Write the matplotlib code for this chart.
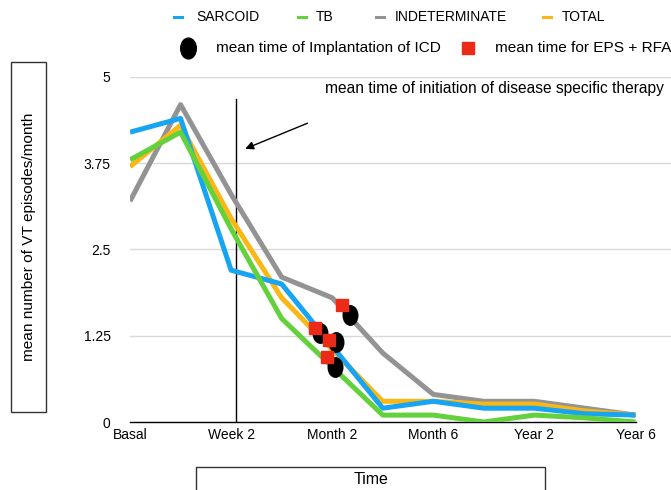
import numpy as np
import matplotlib
matplotlib.use("Agg")
import matplotlib.pyplot as plt
from matplotlib.markers import MarkerStyle
from matplotlib.transforms import Affine2D
from matplotlib.patches import Rectangle

plt.rcParams['font.family'] = ['Liberation Sans', 'DejaVu Sans']

# data
tick_labels = ["Basal", "Week 2", "Month 2", "Month 6", "Year 2", "Year 6"]
steps = np.arange(11)
sarcoid = [4.2, 4.4, 2.2, 2.0, 1.1, 0.2, 0.3, 0.2, 0.2, 0.12, 0.1]
tb = [3.8, 4.2, 2.8, 1.5, 0.8, 0.1, 0.1, 0.0, 0.1, 0.06, 0.0]
indeterminate = [3.2, 4.6, 3.3, 2.1, 1.8, 1.0, 0.4, 0.3, 0.3, 0.2, 0.1]
total = [3.7, 4.3, 2.95, 1.8, 1.05, 0.3, 0.3, 0.26, 0.26, 0.16, 0.1]

icd_x = [3.76, 4.07, 4.06, 4.36]
icd_y = [1.29, 1.16, 0.80, 1.55]
eps_x = [3.66, 3.94, 3.89, 4.19]
eps_y = [1.36, 1.19, 0.94, 1.69]

therapy_x = 2.1

blue = "#17a4f3"
green = "#62d13c"
gray = "#939393"
orange = "#fbb715"
red = "#ec2a18"

W, H = 671, 490
fig = plt.figure(figsize=(W / 100, H / 100), dpi=100)
ax = fig.add_axes([130 / W, (H - 422) / H, (W - 130) / W, 345 / H])

lw = 3.6
ax.plot(steps, indeterminate, color=gray, lw=lw, solid_capstyle='butt', zorder=3)
ax.plot(steps, total, color=orange, lw=lw, solid_capstyle='butt', zorder=3)
ax.plot(steps, sarcoid, color=blue, lw=lw, solid_capstyle='butt', zorder=3)
ax.plot(steps, tb, color=green, lw=lw, solid_capstyle='butt', zorder=3)

ellipse = MarkerStyle('o', transform=Affine2D().scale(0.75, 1.0))
ax.plot(icd_x, icd_y, ls='none', marker=ellipse, ms=14, color='black', zorder=4)
ax.plot(eps_x, eps_y, ls='none', marker='s', ms=8.5, color=red, zorder=5)

ax.plot([therapy_x, therapy_x], [0, 4.68], color='black', lw=1, zorder=2)
ax.annotate("", xy=(2.28, 3.96), xytext=(3.51, 4.33),
            arrowprops=dict(arrowstyle='-|>', color='black', lw=1,
                            mutation_scale=12, shrinkA=0, shrinkB=0))
ax.text(3.85, 4.84, "mean time of initiation of disease specific therapy",
        fontsize=11.2, va='center')

ax.set_xlim(0, (W - 130) / 50.55)
ax.set_ylim(0, 5)
ax.set_xticks(steps[::2])
ax.set_xticklabels(tick_labels, fontsize=10)
ax.set_yticks([0, 1.25, 2.5, 3.75, 5])
ax.set_yticklabels(["0", "1.25", "2.5", "3.75", "5"], fontsize=10)
ax.tick_params(length=0)
ax.tick_params(axis='y', pad=14)
ax.tick_params(axis='x', pad=4)
for s in ['top', 'right', 'left']:
    ax.spines[s].set_visible(False)
ax.spines['bottom'].set_bounds(0, 10)
ax.spines['bottom'].set_linewidth(1)
ax.grid(axis='y', color='#d9d9d9', lw=1)
ax.set_axisbelow(True)
for gl in ax.get_ygridlines()[:1]:
    gl.set_visible(False)
ax.patch.set_visible(False)

# overlay in pixel coords for legend and boxes
ov = fig.add_axes([0, 0, 1, 1])
ov.set_xlim(0, W)
ov.set_ylim(H, 0)
ov.axis('off')

row1 = [(178, 196, blue, "SARCOID"), (302, 316, green, "TB"),
        (380, 395, gray, "INDETERMINATE"), (547, 562, orange, "TOTAL")]
for hx, tx, c, name in row1:
    ov.plot([hx - 4, hx + 4], [17, 17], color=c, lw=2.2)
    ov.text(tx, 17, name, fontsize=10, va='center')

ov.plot([188], [48], marker=ellipse, ms=15, color='black', ls='none')
ov.text(216, 48, "mean time of Implantation of ICD", fontsize=11.1, va='center')
ov.plot([468], [48], marker='s', ms=8.5, color=red, ls='none')
ov.text(495, 48, "mean time for EPS + RFA", fontsize=11.1, va='center')

ov.add_patch(Rectangle((11, 62), 35, 350, fill=False, ec='#333333', lw=1))
ov.text(29, 237, "mean number of VT episodes/month", rotation=90,
        fontsize=11.1, ha='center', va='center')
ov.add_patch(Rectangle((196, 467), 349, 40, fill=False, ec='#333333', lw=1,
                       clip_on=False))
ov.text(371, 479, "Time", fontsize=11.5, ha='center', va='center')

fig.savefig("out.png", dpi=100)
